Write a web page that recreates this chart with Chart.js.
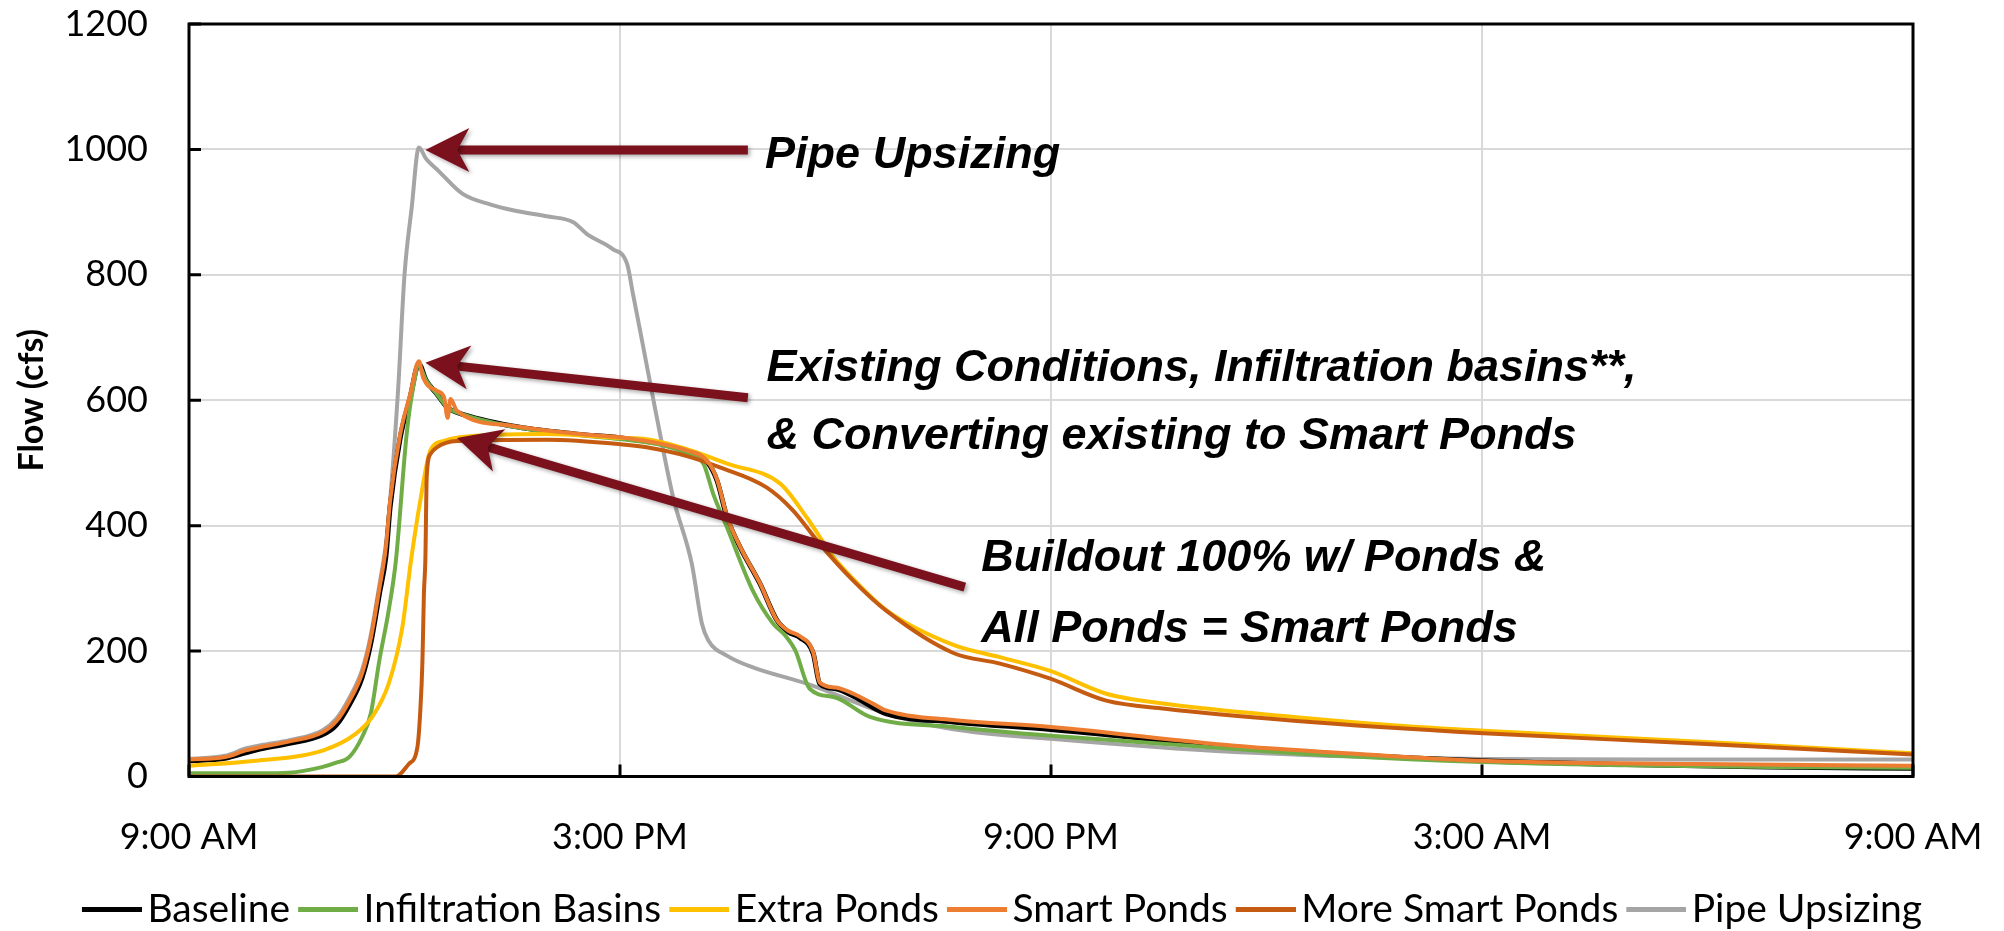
<!DOCTYPE html>
<html><head><meta charset="utf-8">
<script src="https://cdn.jsdelivr.net/npm/chart.js@4.4.1/dist/chart.umd.min.js"></script>
<style>html,body{margin:0;padding:0;background:#fff;overflow:hidden}</style>
</head><body>
<canvas id="c" width="2004" height="931" style="width:2004px;height:931px;display:block"></canvas>
<script>
// ---------- DATA (hours after 9:00 AM, flow in cfs) ----------
const xTickLabels = ['9:00 AM', '3:00 PM', '9:00 PM', '3:00 AM', '9:00 AM'];
const yTickLabels = ['0', '200', '400', '600', '800', '1000', '1200'];
const seriesNames = ['Baseline', 'Infiltration Basins', 'Extra Ponds', 'Smart Ponds', 'More Smart Ponds', 'Pipe Upsizing'];

const baselineT = [0, 0.5, 0.8, 1.0, 1.4, 1.85, 2.05, 2.23, 2.41, 2.53, 2.65, 2.74, 2.8, 2.94, 3.08, 3.2, 3.3, 3.45, 3.6, 3.75, 4.5, 5.4, 6.0, 6.6, 6.93, 7.21, 7.35, 7.49, 7.67, 7.95, 8.18, 8.35, 8.5, 8.69, 8.78, 9.0, 9.25, 9.71, 10.64, 12, 14.56, 16, 18, 20, 22, 24];
const baselineQ = [25, 29, 38, 44, 53, 66, 82, 114, 158, 212, 291, 350, 430, 540, 605, 658, 632, 610, 588, 580, 559, 546, 540, 530, 518, 502, 472, 413, 366, 307, 250, 230, 222, 196, 148, 140, 128, 100, 87, 75, 47, 36, 25, 19, 15, 13];

const infiltrationT = [0, 1.0, 1.39, 1.85, 2.05, 2.23, 2.41, 2.53, 2.65, 2.78, 2.88, 3.03, 3.12, 3.2, 3.3, 3.45, 3.6, 3.75, 4.5, 5.4, 6.0, 6.6, 6.93, 7.16, 7.3, 7.49, 7.85, 8.13, 8.3, 8.44, 8.64, 9.0, 9.48, 10.64, 12, 14.56, 16, 18, 20, 22, 24];
const infiltrationQ = [5, 5, 6, 15, 22, 31, 63, 100, 185, 265, 344, 546, 620, 655, 632, 610, 588, 580, 558, 545, 538, 528, 515, 499, 450, 397, 296, 244, 225, 201, 140, 126, 95, 79, 65, 44, 33, 23, 18, 15, 14];

const extraPondsT = [0, 0.93, 1.85, 2.32, 2.55, 2.78, 2.97, 3.09, 3.22, 3.36, 3.54, 3.77, 4.98, 6.0, 6.37, 6.93, 7.49, 8.23, 8.6, 8.97, 9.22, 9.71, 10.64, 11.3, 12, 12.77, 13.59, 15.38, 16.86, 18.02, 21.12, 24];
const extraPondsQ = [17, 25, 41, 68, 95, 148, 238, 344, 440, 520, 535, 541, 546, 540, 538, 522, 499, 467, 413, 350, 318, 265, 210, 190, 168, 132, 116, 95, 81, 73, 55, 37];

const smartPondsT = [0, 0.5, 0.8, 1.0, 1.4, 1.85, 2.05, 2.23, 2.41, 2.53, 2.65, 2.74, 2.8, 2.94, 3.08, 3.2, 3.26, 3.45, 3.55, 3.6, 3.64, 3.73, 4.51, 5.44, 6.0, 6.6, 6.93, 7.21, 7.35, 7.49, 7.67, 7.95, 8.18, 8.35, 8.5, 8.69, 8.78, 9.0, 9.25, 9.54, 9.71, 10.64, 12, 14.56, 16, 18, 21, 24];
const smartPondsQ = [27, 31, 42, 47, 56, 70, 88, 120, 165, 220, 300, 365, 440, 546, 610, 662, 636, 615, 605, 572, 602, 583, 559, 546, 541, 530, 520, 504, 474, 415, 367, 308, 250, 232, 224, 198, 150, 142, 132, 115, 105, 90, 79, 49, 38, 25, 20, 17];

const moreSmartT = [0, 2.88, 3.06, 3.18, 3.22, 3.25, 3.27, 3.29, 3.31, 3.36, 3.45, 3.73, 4.98, 6.0, 6.37, 6.93, 7.39, 8.04, 8.41, 8.78, 9.25, 9.71, 10.64, 11.29, 11.99, 12.77, 13.59, 15.38, 18.02, 21.12, 24];
const moreSmartQ = [0, 0, 20, 47, 105, 185, 291, 344, 480, 514, 525, 535, 537, 530, 525, 511, 493, 461, 424, 371, 312, 264, 197, 180, 156, 121, 108, 89, 69, 52, 35];

const pipeT = [0, 0.5, 0.8, 1.0, 1.4, 1.85, 2.05, 2.23, 2.41, 2.53, 2.65, 2.74, 2.8, 2.91, 3.0, 3.1, 3.2, 3.3, 3.48, 3.81, 4.2, 4.51, 5.0, 5.35, 5.54, 5.9, 6.1, 6.18, 6.28, 6.5, 6.74, 7.0, 7.14, 7.23, 7.5, 7.85, 8.6, 9.72, 10.6, 12, 14.56, 18, 21, 24];
const pipeQ = [28, 33, 45, 50, 58, 73, 92, 125, 170, 225, 305, 370, 440, 615, 800, 907, 1003, 985, 965, 929, 912, 903, 893, 884, 865, 841, 817, 770, 711, 580, 445, 339, 244, 217, 192, 174, 148, 100, 76, 60, 39, 28, 27, 27];

// ---------- ANNOTATIONS (anchored in data units) ----------
const arrowSpecs = [
  { from: [7.78, 999], to: [3.29, 999] },
  { from: [7.78, 604], to: [3.29, 660] },
  { from: [10.80, 302], to: [3.73, 540] }
];
const noteSpecs = [
  { text: 'Pipe Upsizing', at: [8.02, 970] },
  { text: 'Existing Conditions, Infiltration basins**,', at: [8.04, 631] },
  { text: '& Converting existing to Smart Ponds', at: [8.04, 523] },
  { text: 'Buildout 100% w/ Ponds &', at: [11.03, 328] },
  { text: 'All Ponds = Smart Ponds', at: [11.03, 214] }
];

// ---------- STYLE ----------
const colors = ['#000000', '#70ad47', '#ffc000', '#ed7d31', '#c55a11', '#a5a5a5'];
const widths = [5, 4, 4, 4, 4, 4];
const drawOrder = [4, 3, 2, 0, 1, 5];
const seriesT = [baselineT, infiltrationT, extraPondsT, smartPondsT, moreSmartT, pipeT];
const seriesQ = [baselineQ, infiltrationQ, extraPondsQ, smartPondsQ, moreSmartQ, pipeQ];

const tickFont = { family: 'Lato, "Open Sans", sans-serif', size: 36 };
const legendFontSize = 39;
const arrowColor = '#7b111c';

const datasets = seriesNames.map((name, i) => ({
  label: name,
  data: seriesT[i].map((t, k) => ({ x: t, y: seriesQ[i][k] })),
  borderColor: colors[i],
  backgroundColor: colors[i],
  borderWidth: widths[i],
  pointRadius: 0,
  cubicInterpolationMode: 'monotone',
  order: drawOrder[i],
  fill: false
}));

// legend swatch: a 60px line whose left edge sits at the legend item start
function swatch(color) {
  const c = document.createElement('canvas');
  c.width = 74; c.height = 5;
  const g = c.getContext('2d');
  g.fillStyle = color;
  g.fillRect(14, 0, 60, 5);
  return c;
}

function drawArrow(ctx, x1, y1, x2, y2) {
  const ang = Math.atan2(y2 - y1, x2 - x1);
  const ux = Math.cos(ang), uy = Math.sin(ang);
  const px = -uy, py = ux;
  const L = 44, W = 22, N = 32;
  const bx = x2 - ux * N, by = y2 - uy * N;
  ctx.beginPath();
  ctx.moveTo(x1, y1);
  ctx.lineTo(bx + ux * 2, by + uy * 2);
  ctx.lineWidth = 9;
  ctx.lineCap = 'butt';
  ctx.stroke();
  ctx.beginPath();
  ctx.moveTo(x2, y2);
  ctx.lineTo(x2 - ux * L + px * W, y2 - uy * L + py * W);
  ctx.lineTo(bx, by);
  ctx.lineTo(x2 - ux * L - px * W, y2 - uy * L - py * W);
  ctx.closePath();
  ctx.fill();
}

const decor = {
  id: 'decor',
  afterDatasetsDraw(chart) {
    const { ctx, chartArea: a, scales: { x, y } } = chart;
    ctx.save();
    ctx.strokeStyle = '#000';
    ctx.lineWidth = 3;
    ctx.beginPath();
    y.ticks.forEach(t => { const p = y.getPixelForValue(t.value); ctx.moveTo(a.left, p); ctx.lineTo(a.left + 12, p); });
    x.ticks.forEach(t => { const p = x.getPixelForValue(t.value); ctx.moveTo(p, a.bottom); ctx.lineTo(p, a.bottom - 12); });
    ctx.stroke();
    ctx.strokeRect(a.left, a.top, a.right - a.left, a.bottom - a.top);
    ctx.restore();
  },
  afterDraw(chart) {
    const { ctx, scales: { x, y } } = chart;
    ctx.save();
    ctx.strokeStyle = arrowColor;
    ctx.fillStyle = arrowColor;
    ctx.shadowColor = 'rgba(0,0,0,0.35)';
    ctx.shadowBlur = 4;
    ctx.shadowOffsetX = 2;
    ctx.shadowOffsetY = 2;
    arrowSpecs.forEach(s => {
      drawArrow(ctx, x.getPixelForValue(s.from[0]), y.getPixelForValue(s.from[1]),
                     x.getPixelForValue(s.to[0]), y.getPixelForValue(s.to[1]));
    });
    ctx.restore();
    ctx.save();
    ctx.fillStyle = '#000';
    ctx.font = 'italic bold 45px "Liberation Sans", Arial, sans-serif';
    ctx.textBaseline = 'alphabetic';
    ctx.textAlign = 'left';
    noteSpecs.forEach(n => ctx.fillText(n.text, x.getPixelForValue(n.at[0]), y.getPixelForValue(n.at[1])));
    ctx.restore();
  }
};

new Chart(document.getElementById('c'), {
  type: 'line',
  data: { datasets },
  options: {
    responsive: false,
    animation: false,
    devicePixelRatio: 1,
    layout: { padding: { left: 0, right: 0, top: 24, bottom: -8 } },
    plugins: {
      tooltip: { enabled: false },
      legend: {
        position: 'bottom',
        labels: {
          usePointStyle: true,
          pointStyleWidth: 46,
          boxHeight: 5,
          padding: 8,
          color: '#000',
          font: { family: 'Lato, "Open Sans", sans-serif', size: legendFontSize },
          generateLabels: (chart) => chart.data.datasets.map((ds, i) => ({
            text: ds.label, fillStyle: ds.borderColor, strokeStyle: ds.borderColor,
            lineWidth: 0, hidden: false, datasetIndex: i, fontColor: '#000',
            pointStyle: swatch(ds.borderColor), rotation: 0
          }))
        }
      }
    },
    scales: {
      x: {
        type: 'linear', min: 0, max: 24,
        afterFit: (s) => { s.height = 105.5; s.paddingLeft = 0; s.paddingRight = 0; },
        ticks: {
          stepSize: 6, padding: 39, color: '#000', font: tickFont, maxRotation: 0,
          callback: (v) => xTickLabels[Math.round(v / 6)]
        },
        grid: { color: '#d9d9d9', lineWidth: 2, drawTicks: false },
        border: { display: false }
      },
      y: {
        type: 'linear', min: 0, max: 1200, position: 'left',
        afterFit: (s) => { s.width = 189; s.paddingTop = 0; s.paddingBottom = 0; },
        ticks: {
          stepSize: 200, padding: 41, color: '#000', font: tickFont,
          callback: (v) => yTickLabels[Math.round(v / 200)]
        },
        grid: { color: '#d9d9d9', lineWidth: 2, drawTicks: false },
        border: { display: false },
        title: {
          display: true, text: 'Flow (cfs)', color: '#000',
          font: { family: 'Lato, "Open Sans", sans-serif', size: 34, weight: 'bold' },
          padding: { top: 12, bottom: 4 }
        }
      },
      yRight: {
        type: 'linear', position: 'right', display: true,
        afterFit: (s) => { s.width = 91; s.paddingTop = 0; s.paddingBottom = 0; },
        ticks: { display: false },
        grid: { display: false, drawTicks: false },
        border: { display: false }
      }
    }
  },
  plugins: [decor]
});
</script>
</body></html>
